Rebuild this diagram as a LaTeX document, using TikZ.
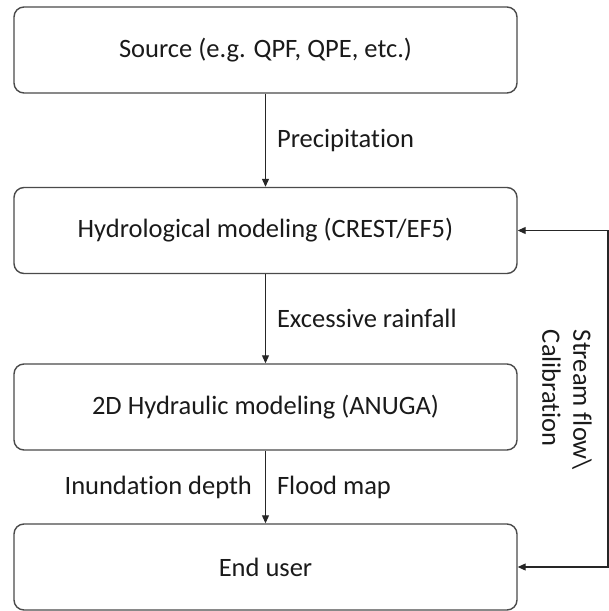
\documentclass[tikz,border=0pt]{standalone}
\usepackage{fontspec}
\setmainfont{Carlito}[Ligatures={NoCommon,NoRequired,NoContextual}]
\usetikzlibrary{arrows.meta}
\definecolor{boxline}{HTML}{4A4A4A}
\definecolor{txt}{HTML}{1A1A1A}
\tikzset{
  procbox/.style={draw=boxline, line width=1.4pt, rounded corners=10pt,
    minimum width=503pt, minimum height=86pt, inner sep=0pt,
    font=\fontsize{26.5}{31}\selectfont, text=txt},
  arr/.style={draw=black!85, line width=1.1pt, -{Triangle[length=8pt,width=7pt]}},
  biarr/.style={draw=black!85, line width=1.1pt, {Triangle[length=8pt,width=7pt]}-{Triangle[length=8pt,width=7pt]}},
  lbl/.style={font=\fontsize{26.5}{31}\selectfont, text=txt, inner sep=0pt}
}
\begin{document}
\begin{tikzpicture}[x=1pt,y=-1pt]
\useasboundingbox (0,0) rectangle (609,611);
\node[procbox] (src) at (265.5,50) {Source (e.g. QPF, QPE, etc.)};
\node[procbox] (hyd) at (265.5,230.5) {Hydrological modeling (CREST/EF5)};
\node[procbox] (hdr) at (265.5,407) {2D Hydraulic modeling (ANUGA)};
\node[procbox] (usr) at (265.5,567) {End user};
\draw[arr] (src) -- (hyd) node[lbl, midway, anchor=west, xshift=11pt] (lp) {Precipitation};
\draw[arr] (hyd) -- (hdr) node[lbl, midway, anchor=west, xshift=11pt] (le) {Excessive rainfall};
\draw[arr] (hdr) -- (usr) node[lbl, midway, anchor=west, xshift=11pt] (lf) {Flood map}
  node[lbl, midway, anchor=east, xshift=-13pt] (li) {Inundation depth};
\coordinate (c1) at (608,230.5);
\coordinate (c2) at (608,567);
\draw[biarr] (hyd.east) -- (c1) -- (c2) -- (usr.east);
\node[lbl, rotate=-90, align=left] (cal) at (567,400) {Stream flow\textbackslash\\Calibration};
\end{tikzpicture}
\end{document}
